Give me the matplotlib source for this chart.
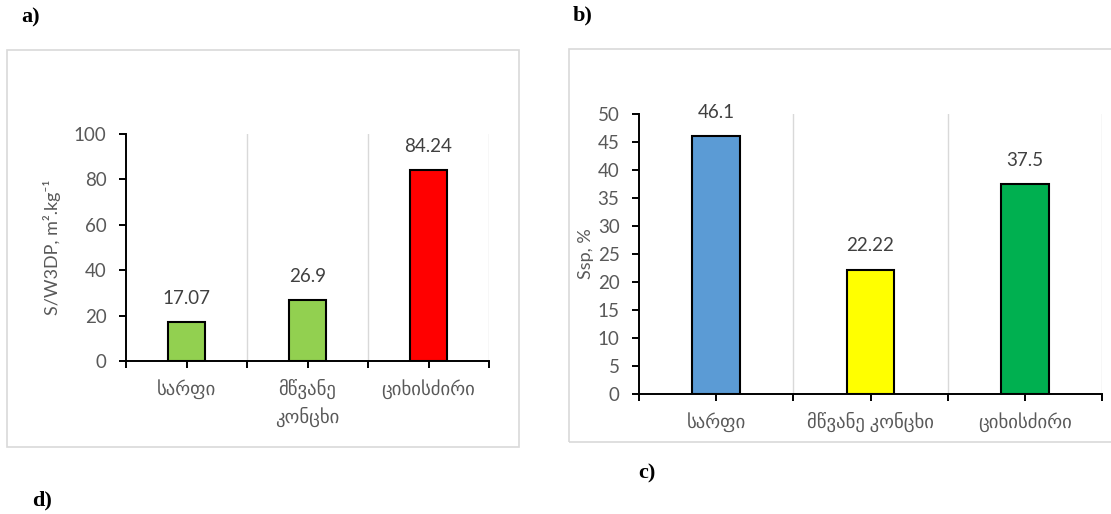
import matplotlib
matplotlib.use('Agg')
import matplotlib.pyplot as plt
from matplotlib.patches import Rectangle
from matplotlib.ticker import FixedLocator

plt.rcParams['font.family'] = ['Lato', 'DejaVu Sans']

# panel a
cats_a = ['სარფი', 'მწვანე\nკონცხი', 'ციხისძირი']
vals_a = [17.07, 26.9, 84.24]
colors_a = ['#92d050', '#92d050', '#ff0000']
yticks_a = [0, 20, 40, 60, 80, 100]

# panel b
cats_b = ['სარფი', 'მწვანე კონცხი', 'ციხისძირი']
vals_b = [46.1, 22.22, 37.5]
colors_b = ['#5b9bd5', '#ffff00', '#00b050']
yticks_b = [0, 5, 10, 15, 20, 25, 30, 35, 40, 45, 50]

W, H = 1111, 514
fig = plt.figure(figsize=(W / 100, H / 100), dpi=100)

def px(x0, y0, x1, y1):
    # pixel box -> figure fraction [left, bottom, width, height]
    return [x0 / W, 1 - y1 / H, (x1 - x0) / W, (y1 - y0) / H]

# outer frames
for box in [(7, 50, 519, 447), (569, 49, 1118, 442)]:
    l, b, w, h = px(*box)
    fig.add_artist(Rectangle((l, b), w, h, transform=fig.transFigure,
                             fill=False, edgecolor='#d9d9d9', lw=1.2))

grey = '#595959'

def bar_panel(ax, cats, vals, colors, yticks, linesp=1.2):
    n = len(cats)
    x = list(range(n))
    ax.bar(x, vals, width=0.31, color=colors, edgecolor='black', lw=1.5, zorder=3)
    for xi, v in zip(x, vals):
        ax.annotate(str(v), (xi, v), xytext=(0, 17), textcoords='offset points',
                    ha='center', va='center', fontsize=13.5, color='#404040')
    ax.set_xlim(-0.5, n - 0.5)
    ax.set_ylim(yticks[0], yticks[-1])
    ax.set_yticks(yticks)
    ax.set_xticks(x)
    ax.set_xticklabels(cats, linespacing=linesp)
    ax.xaxis.set_minor_locator(FixedLocator([i - 0.5 for i in range(n + 1)]))
    for b in range(1, n + 1):
        ax.axvline(b - 0.5, color='#d9d9d9', lw=1.0, zorder=1)
    for s in ['top', 'right']:
        ax.spines[s].set_visible(False)
    for s in ['left', 'bottom']:
        ax.spines[s].set_linewidth(1.4)
        ax.spines[s].set_color('black')
    ax.tick_params(axis='y', direction='out', length=5, width=1.4, pad=9,
                   labelsize=13.5, labelcolor=grey)
    ax.tick_params(axis='x', which='both', direction='out', length=5, width=1.4,
                   pad=8, labelsize=13.5, labelcolor=grey)

ax1 = fig.add_axes(px(126, 134, 489, 361))
bar_panel(ax1, cats_a, vals_a, colors_a, yticks_a, linesp=1.45)
fig.text(52 / W, 1 - 247 / H, 'S/W3DP, m².kg⁻¹', rotation=90, ha='center',
         va='center', fontsize=13, color=grey)

ax2 = fig.add_axes(px(639, 114, 1102, 394))
bar_panel(ax2, cats_b, vals_b, colors_b, yticks_b)
fig.text(586 / W, 1 - 254 / H, 'Ssp, %', rotation=90, ha='center',
         va='center', fontsize=13, color=grey)

# panel letters
for txt, x, y in [('a)', 21, 17), ('b)', 573, 15), ('c)', 638, 473), ('d)', 32, 500)]:
    fig.text(x / W, 1 - y / H, txt, ha='left', va='center', fontsize=16,
             fontweight='bold', family='Liberation Serif')

fig.savefig('out.png', dpi=100)
